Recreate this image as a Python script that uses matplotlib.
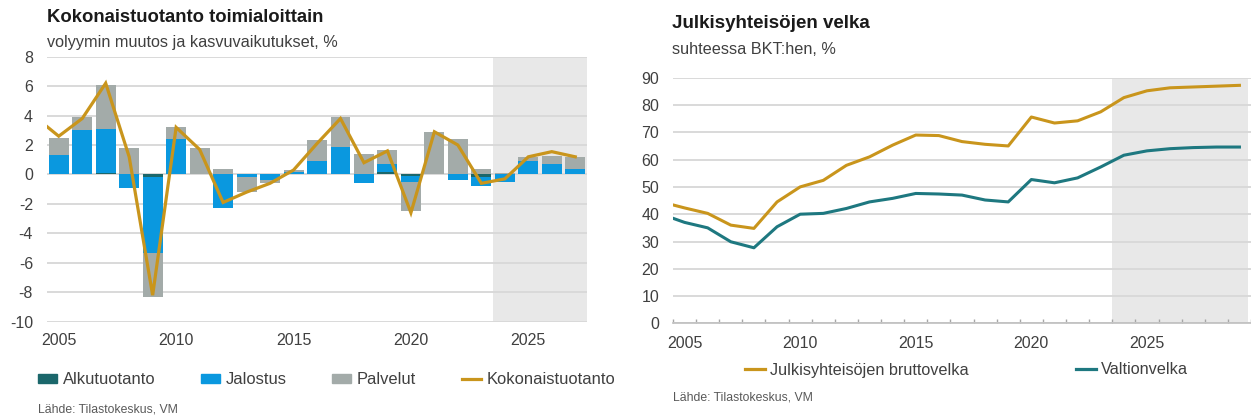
"""
Kokonaistuotanto toimialoittain ja julkisyhteisöjen velka
Kaksi Excel-tyylistä kuviota rinnakkain.
"""

import numpy as np
import matplotlib
matplotlib.use('Agg')
import matplotlib.pyplot as plt
from matplotlib.lines import Line2D
from matplotlib.patches import Patch

plt.rcParams['font.family'] = ['Liberation Sans', 'DejaVu Sans']
plt.rcParams['axes.unicode_minus'] = False

# --- vasen kuvio: kasvuvaikutukset, %-yks. ---
vuodet = list(range(2005, 2028))
alkutuotanto = [0.0, 0.0, 0.1, 0.0, -0.2, 0.0, 0.0, 0.0, 0.0, 0.0, 0.0, 0.0,
                0.0, 0.0, 0.2, -0.1, 0.0, 0.0, -0.2, 0.0, 0.0, 0.0, 0.0]
jalostus = [1.3, 3.0, 3.0, -0.9, -5.1, 2.4, 0.0, -2.3, -0.2, -0.4, 0.15, 0.9,
            1.85, -0.55, 0.5, -0.4, 0.0, -0.4, -0.6, -0.5, 0.9, 0.7, 0.4]
palvelut = [1.2, 0.9, 3.0, 1.8, -3.0, 0.8, 1.8, 0.4, -1.0, -0.2, 0.15, 1.45,
            2.05, 1.4, 0.95, -2.0, 2.9, 2.4, 0.35, 0.1, 0.3, 0.55, 0.8]

# kokonaistuotannon viiva alkaa vuodesta 2004 (näkyy vain reunassa)
koko_vuodet = list(range(2004, 2028))
kokonaistuotanto = [3.9, 2.6, 3.8, 6.2, 1.2, -8.2, 3.2, 1.7, -1.9, -1.2, -0.6,
                    0.3, 2.1, 3.8, 0.8, 1.6, -2.6, 2.9, 2.0, -0.6, -0.3, 1.2,
                    1.55, 1.2]

# --- oikea kuvio: velka suhteessa BKT:hen, % ---
velka_vuodet = list(range(2004, 2030))
bruttovelka = [44.5, 42.3, 40.3, 36.0, 34.8, 44.5, 50.0, 52.4, 57.9, 61.0,
               65.3, 69.0, 68.8, 66.6, 65.6, 65.0, 75.6, 73.4, 74.2, 77.5,
               82.7, 85.2, 86.3, 86.6, 86.9, 87.2]
valtionvelka = [40.0, 37.0, 35.0, 29.9, 27.7, 35.4, 40.0, 40.3, 42.1, 44.5,
                45.8, 47.6, 47.4, 47.0, 45.2, 44.5, 52.7, 51.5, 53.3, 57.3,
                61.6, 63.2, 64.0, 64.4, 64.6, 64.6]

ennuste_alku = 2023.5

# värit
KULTA = '#C9951C'
TURKOOSI = '#1E7880'
TUMMA = '#1B676B'
SININEN = '#0A98DF'
HARMAA = '#A3ABA9'
RUUDUKKO = '#D9D9D9'
VARJO = '#E8E8E8'
TEKSTI = '#404040'

W, H = 1251, 418


def px(x, y):
    """pikselit -> kuvan koordinaatit"""
    return x / W, 1 - y / H


def piirra_tuotanto(fig):
    ax = fig.add_axes([47 / W, (H - 321.7) / H, 540 / W, 265 / H])

    # pinotut pylväät, positiiviset ja negatiiviset erikseen
    pos = np.zeros(len(vuodet))
    neg = np.zeros(len(vuodet))
    for arvot, vari in [(alkutuotanto, TUMMA), (jalostus, SININEN),
                        (palvelut, HARMAA)]:
        a = np.array(arvot)
        pohja = np.where(a >= 0, pos, neg)
        ax.bar(vuodet, a, bottom=pohja, width=0.85, color=vari, zorder=2)
        pos = pos + np.clip(a, 0, None)
        neg = neg + np.clip(a, None, 0)

    ax.plot(koko_vuodet, kokonaistuotanto, color=KULTA, lw=2.3, zorder=3,
            solid_joinstyle='miter')

    ax.axvspan(ennuste_alku, 2027.5, color=VARJO, zorder=0, lw=0)

    ax.set_xlim(2004.5, 2027.5)
    ax.set_ylim(-10, 8)
    ax.set_yticks(range(-10, 9, 2))
    ax.set_xticks([2005, 2010, 2015, 2020, 2025])
    ax.yaxis.grid(True, color=RUUDUKKO, lw=1.4, zorder=1)
    ax.set_axisbelow(True)
    for s in ax.spines.values():
        s.set_visible(False)
    ax.tick_params(axis='y', length=0, pad=10, labelsize=11.5,
                   labelcolor=TEKSTI)
    ax.tick_params(axis='x', length=0, pad=8, labelsize=11.5,
                   labelcolor=TEKSTI)

    fig.text(*px(47, 17), 'Kokonaistuotanto toimialoittain', fontsize=13.3,
             fontweight='bold', color='#1A1A1A', va='center')
    fig.text(*px(47, 42), 'volyymin muutos ja kasvuvaikutukset, %',
             fontsize=11.7, color=TEKSTI, va='center')

    kahvat = [Patch(color=TUMMA), Patch(color=SININEN), Patch(color=HARMAA),
              Line2D([], [], color=KULTA, lw=2.3)]
    nimet = ['Alkutuotanto', 'Jalostus', 'Palvelut', 'Kokonaistuotanto']
    fig.legend(kahvat, nimet, loc='center left', bbox_to_anchor=px(38, 380),
               ncol=4, frameon=False, fontsize=11.9, borderpad=0,
               borderaxespad=0, handlelength=1.15, handleheight=0.45,
               handletextpad=0.35, columnspacing=2.75, labelcolor=TEKSTI)
    fig.text(*px(38, 410), 'Lähde: Tilastokeskus, VM', fontsize=8.8,
             color='#595959', va='center')


def piirra_velka(fig):
    leveys = W - 673
    ax = fig.add_axes([673 / W, (H - 323.4) / H, leveys / W, 245.7 / H])

    ax.plot(velka_vuodet, bruttovelka, color=KULTA, lw=2.2, zorder=3)
    ax.plot(velka_vuodet, valtionvelka, color=TURKOOSI, lw=2.2, zorder=3)

    oikea = 2004.5 + leveys / 23.25
    ax.axvspan(ennuste_alku, oikea, color=VARJO, zorder=0, lw=0)

    ax.set_xlim(2004.5, oikea)
    ax.set_ylim(0, 90)
    ax.set_yticks(range(0, 91, 10))
    ax.set_xticks([2005, 2010, 2015, 2020, 2025])
    ax.set_xticks(np.arange(2004.5, 2030, 1.0), minor=True)
    ax.yaxis.grid(True, color=RUUDUKKO, lw=1.4, zorder=1)
    ax.set_axisbelow(True)
    for nimi, s in ax.spines.items():
        s.set_visible(nimi == 'bottom')
    ax.spines['bottom'].set_color('#BFBFBF')
    ax.spines['bottom'].set_linewidth(1.2)
    ax.tick_params(axis='y', length=0, pad=10, labelsize=11.5,
                   labelcolor=TEKSTI)
    ax.tick_params(axis='x', which='major', length=0, pad=9, labelsize=11.5,
                   labelcolor=TEKSTI)
    ax.tick_params(axis='x', which='minor', length=3, width=1,
                   color='#A6A6A6', direction='in')

    fig.text(*px(672, 23), 'Julkisyhteisöjen velka', fontsize=13.5,
             fontweight='bold', color='#1A1A1A', va='center')
    fig.text(*px(672, 50), 'suhteessa BKT:hen, %', fontsize=11.7,
             color=TEKSTI, va='center')

    kahvat = [Line2D([], [], color=KULTA, lw=2.3),
              Line2D([], [], color=TURKOOSI, lw=2.3)]
    nimet = ['Julkisyhteisöjen bruttovelka', 'Valtionvelka']
    fig.legend(kahvat, nimet, loc='center left', bbox_to_anchor=px(745, 370),
               ncol=2, frameon=False, fontsize=11.7, borderpad=0,
               borderaxespad=0, handlelength=1.2, handletextpad=0.35,
               columnspacing=6.6, labelcolor=TEKSTI)
    fig.text(*px(673, 398), 'Lähde: Tilastokeskus, VM', fontsize=8.8,
             color='#595959', va='center')


def main():
    fig = plt.figure(figsize=(W / 100, H / 100), dpi=100)
    piirra_tuotanto(fig)
    piirra_velka(fig)
    fig.savefig('out.png', dpi=100)


if __name__ == '__main__':
    main()
